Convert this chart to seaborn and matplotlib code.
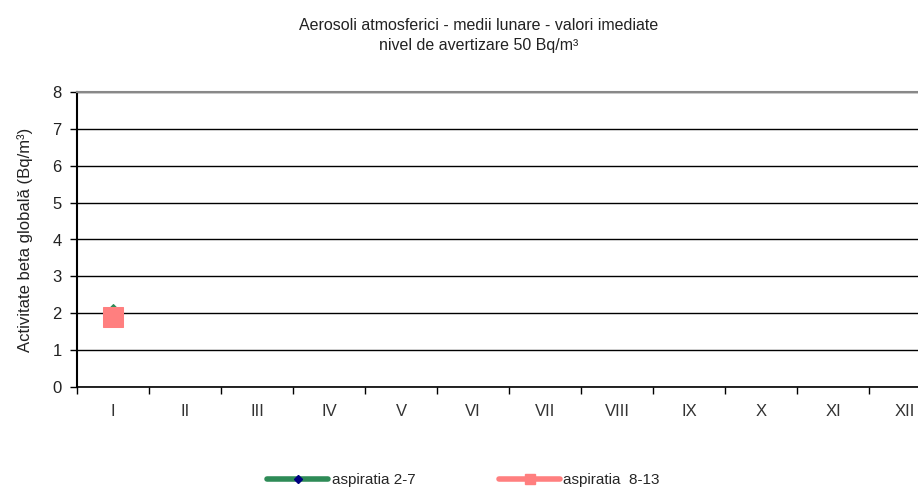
import numpy as np
import pandas as pd
import matplotlib
matplotlib.use('Agg')
import matplotlib.pyplot as plt
from matplotlib.lines import Line2D
import seaborn as sns

# Data
months = ['I', 'II', 'III', 'IV', 'V', 'VI', 'VII', 'VIII', 'IX', 'X', 'XI', 'XII']
asp_2_7 = [2.15, None, None, None, None, None, None, None, None, None, None, None]
asp_8_13 = [1.9, None, None, None, None, None, None, None, None, None, None, None]

sns.set_theme(style='white')
plt.rcParams['font.family'] = ['Liberation Sans', 'DejaVu Sans']

df = pd.DataFrame({'luna': np.arange(len(months)),
                   'asp_2_7': pd.array(asp_2_7, dtype='float'),
                   'asp_8_13': pd.array(asp_8_13, dtype='float')})

fig = plt.figure(figsize=(9.18, 4.9), dpi=100)
ax = fig.add_axes([77/918, 103/490, 864/918, 295/490])

green = '#2e8b57'
salmon = '#ff7f7f'

sns.lineplot(data=df, x='luna', y='asp_8_13', ax=ax, color=salmon, lw=4,
             marker='s', markersize=15, markeredgecolor=salmon, zorder=3)
sns.lineplot(data=df, x='luna', y='asp_2_7', ax=ax, color=green, lw=4,
             marker='D', markersize=4, markerfacecolor=green,
             markeredgecolor=green, zorder=2)

ax.set_xlim(-0.5, len(months) - 0.5)
ax.set_ylim(0, 8)
ax.set_yticks(range(0, 9))
ax.set_xticks(np.arange(len(months)))
ax.set_xticklabels(months, fontsize=12, color='#333333')
ax.set_xticks(np.arange(len(months)) - 0.5, minor=True)
ax.tick_params(axis='x', which='major', length=0, pad=12, bottom=True)
ax.tick_params(axis='x', which='minor', length=5, width=1, color='black',
               direction='out', bottom=True)
ax.tick_params(axis='y', length=5, width=1, color='black', direction='out', left=True,
               labelsize=12, labelcolor='#222222', pad=6)
ax.yaxis.grid(True, color='black', lw=1)
ax.set_axisbelow(True)
ax.spines['right'].set_visible(False)
ax.spines['top'].set_color('#888888')
ax.spines['top'].set_linewidth(1.5)
ax.spines['left'].set_color('black')
ax.spines['left'].set_linewidth(1.5)
ax.spines['bottom'].set_color('black')
ax.spines['bottom'].set_linewidth(1.2)

ax.set_xlabel('')
ax.set_ylabel('Activitate beta globală (Bq/m³)', fontsize=12, color='#222222', labelpad=14)

fig.text(0.521, 0.948, 'Aerosoli atmosferici - medii lunare - valori imediate',
         ha='center', va='center', fontsize=11.5, color='#222222')
fig.text(0.521, 0.907, 'nivel de avertizare 50 Bq/m³',
         ha='center', va='center', fontsize=11.5, color='#222222')

handles = [
    Line2D([], [], color=green, lw=4, marker='D', markersize=4,
           markerfacecolor='#000080', markeredgecolor='#000080'),
    Line2D([], [], color=salmon, lw=4, marker='s', markersize=7,
           markeredgecolor=salmon),
]
fig.legend(handles, ['aspiratia 2-7', 'aspiratia  8-13'], loc='center',
           bbox_to_anchor=(0.505, 0.02), ncol=2, frameon=False, fontsize=11,
           handlelength=4, handletextpad=0.2, columnspacing=5.5)

fig.savefig('out.png', dpi=100)
